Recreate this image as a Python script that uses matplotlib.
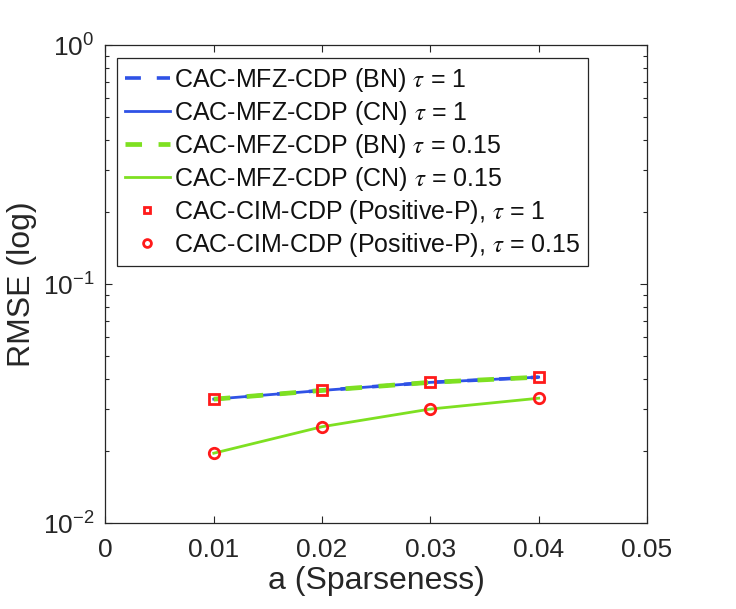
import matplotlib
matplotlib.use('Agg')
import matplotlib.pyplot as plt

# sparseness values and RMSE
a = [0.01, 0.02, 0.03, 0.04]
rmse_bn_tau1 = [0.0330, 0.0359, 0.0388, 0.0408]
rmse_cn_tau1 = [0.0330, 0.0359, 0.0388, 0.0408]
rmse_bn_tau015 = [0.0330, 0.0359, 0.0388, 0.0408]
rmse_cn_tau015 = [0.0196, 0.0253, 0.0300, 0.0333]
posp_tau1 = [0.0330, 0.0359, 0.0388, 0.0408]
posp_tau015 = [0.0196, 0.0253, 0.0300, 0.0333]

x_ticks = [0, 0.01, 0.02, 0.03, 0.04, 0.05]

plt.rcParams['font.family'] = ['Liberation Sans', 'DejaVu Sans']
plt.rcParams['mathtext.fontset'] = 'stix'

blue = '#2f52e6'
green = '#7ee021'
red = '#ff1a1a'
dark = '#262626'

fig = plt.figure(figsize=(7.36, 6.09), dpi=100)
ax = fig.add_axes([0.1433, 0.1412, 0.7357, 0.7844])

ax.plot(a, rmse_bn_tau1, color=blue, lw=2.6, dashes=(4.4, 4.4),
        label=r'CAC-MFZ-CDP (BN) $\tau$ = 1')
ax.plot(a, rmse_cn_tau1, color=blue, lw=2.0,
        label=r'CAC-MFZ-CDP (CN) $\tau$ = 1')
ax.plot(a, rmse_bn_tau015, color=green, lw=3.4, dashes=(3.5, 3.5),
        label=r'CAC-MFZ-CDP (BN) $\tau$ = 0.15')
ax.plot(a, rmse_cn_tau015, color=green, lw=2.0,
        label=r'CAC-MFZ-CDP (CN) $\tau$ = 0.15')
ax.plot(a, posp_tau1, ls='none', marker='s', ms=6.5, mfc='none', mec=red, mew=2.0,
        label=r'CAC-CIM-CDP (Positive-P), $\tau$ = 1')
ax.plot(a, posp_tau015, ls='none', marker='o', ms=7.5, mfc='none', mec=red, mew=2.0,
        label=r'CAC-CIM-CDP (Positive-P), $\tau$ = 0.15')

ax.set_yscale('log')
ax.set_ylim(1e-2, 1e0)
ax.set_xlim(0, 0.05)
ax.set_xticks(x_ticks)
ax.set_xticklabels(['0', '0.01', '0.02', '0.03', '0.04', '0.05'])

ax.tick_params(which='both', direction='in', top=True, right=True, colors=dark,
               labelsize=19, width=0.8)
ax.tick_params(which='major', length=5, pad=8)
ax.tick_params(axis='x', which='major', pad=11)
ax.tick_params(which='minor', length=3)
ax.tick_params(axis='x', which='minor', top=False, bottom=False)
for s in ax.spines.values():
    s.set_color(dark)
    s.set_linewidth(0.9)

ax.set_xlabel('a (Sparseness)', fontsize=23, color=dark, labelpad=3)
ax.set_ylabel('RMSE (log)', fontsize=23, color=dark, labelpad=4)

leg = ax.legend(loc='upper left', bbox_to_anchor=(0.022, 0.973), fontsize=18,
                frameon=True, fancybox=False, edgecolor=dark, framealpha=1,
                handlelength=1.8, handletextpad=0.15, borderpad=0.3,
                labelspacing=0.2, borderaxespad=0, markerscale=0.75)
leg.get_frame().set_linewidth(0.9)
for t in leg.get_texts():
    t.set_color('#111111')

fig.savefig('out.png', dpi=100)
